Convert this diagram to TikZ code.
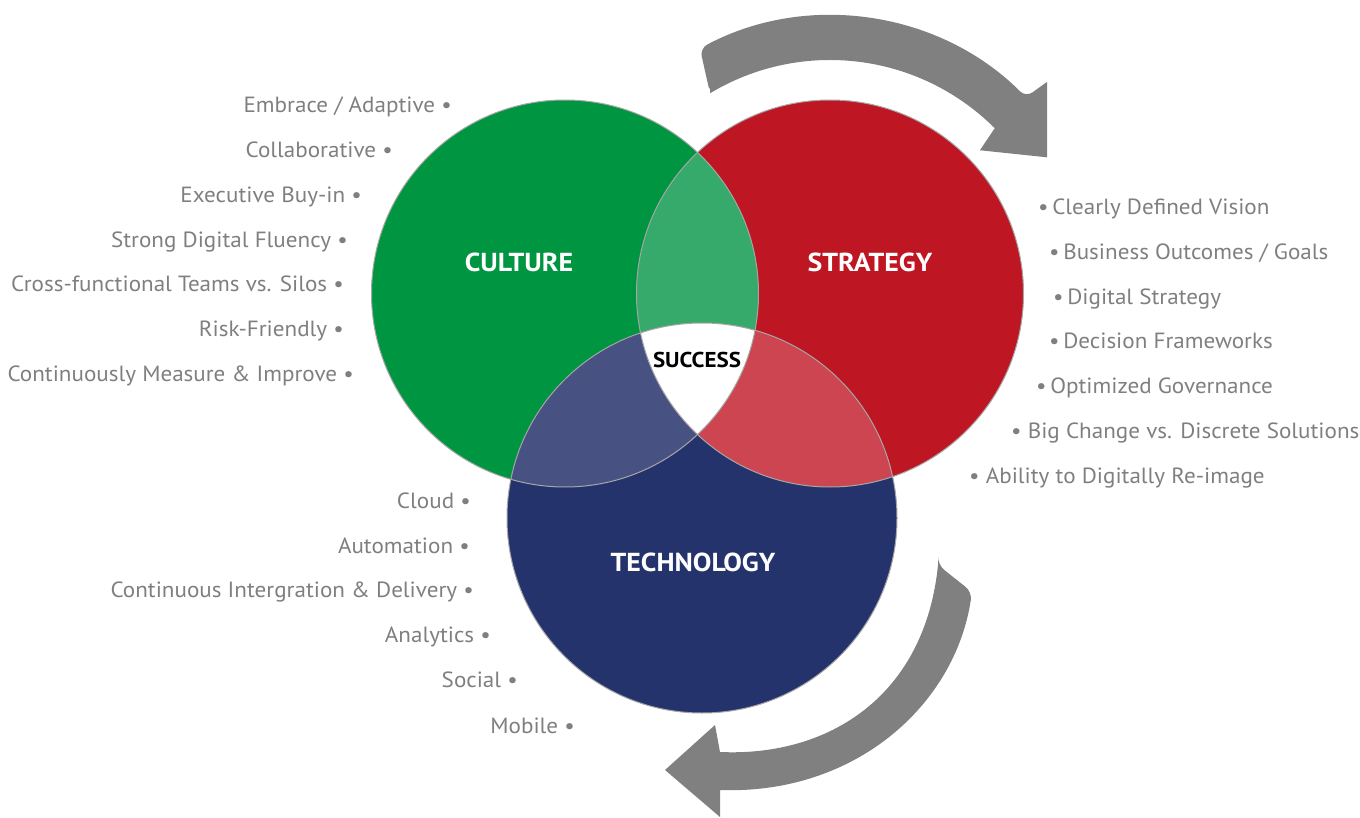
\documentclass[tikz,border=0pt]{standalone}
\usepackage{fontspec}
\setmainfont{PT Sans}
\usetikzlibrary{positioning,calc}

\definecolor{culturegreen}{HTML}{009540}
\definecolor{strategyred}{HTML}{BE1622}
\definecolor{technavy}{HTML}{25336C}
\definecolor{lensgreen}{HTML}{36AA6A}
\definecolor{lensblue}{HTML}{475282}
\definecolor{lensred}{HTML}{CC4550}
\definecolor{edgegray}{HTML}{A6A6A6}
\definecolor{itemgray}{HTML}{7F7F7F}
\definecolor{arrowgray}{HTML}{808080}

\begin{document}
\begin{tikzpicture}[x=1pt, y=1pt,
                item/.style={text=itemgray, font=\fontsize{22}{24}\selectfont\addfontfeature{FakeStretch=1.05}, inner sep=0pt},
                leftitem/.style={item, anchor=base east},
                rightitem/.style={item, anchor=base west},
                title/.style={text=white, font=\fontsize{26}{28}\selectfont\bfseries\addfontfeature{FakeStretch=1.07}},
                ring/.style={circle, draw=edgegray, line width=1, inner sep=0pt}
                ]
                \useasboundingbox (0,0) rectangle (1360,-818);
                % Centres
                \coordinate (cc) at (565,-293.5);
                \coordinate (sc) at (830,-293.5);
                \coordinate (tc) at (702,-518);
                \coordinate (ta) at (830,-293);
                % Circles
                \fill[culturegreen] (cc) circle[radius=193.5];
                \fill[strategyred] (sc) circle[radius=193.5];
                \fill[technavy] (tc) circle[radius=195];
                % Overlaps
                \begin{scope}
                  \clip (cc) circle[radius=193.5];
                  \fill[lensgreen] (sc) circle[radius=193.5];
                  \fill[lensblue] (tc) circle[radius=195];
                \end{scope}
                \begin{scope}
                  \clip (sc) circle[radius=193.5];
                  \fill[lensred] (tc) circle[radius=195];
                  \clip (cc) circle[radius=193.5];
                  \fill[white] (tc) circle[radius=195];
                \end{scope}
                \node[ring, minimum size=387] (culture) at (cc) {};
                \node[ring, minimum size=387] (strategy) at (sc) {};
                \node[ring, minimum size=390] (technology) at (tc) {};
                % Titles
                \node[title] (cultureT) at (519,-262) {CULTURE};
                \node[title] (strategyT) at (870,-262) {STRATEGY};
                \node[title] (technologyT) at (693,-562) {TECHNOLOGY};
                \node[title, text=black, font=\fontsize{21.5}{24}\selectfont\bfseries\addfontfeature{FakeStretch=1.07}] (success) at (697,-360) {SUCCESS};
                % Top arrow
                \fill[arrowgray, rounded corners=8] ($(ta)+(121:233)$) -- ($(ta)+(118:277)$)
                  arc[start angle=118, end angle=45, radius=277] [sharp corners]
                  -- ($(ta)+(44.2:303)$) -- ($(ta)+(32:256)$) -- ($(ta)+(43.6:207)$)
                  -- ($(ta)+(45:233)$) arc[start angle=45, end angle=121, radius=233]
                  [rounded corners=8] -- cycle;
                % Bottom arrow
                \fill[arrowgray, rounded corners=8] (938,-565) -- (972,-592) [sharp corners]
                  .. controls (955,-705) and (855,-795) .. (720,-790)
                  -- (720,-817) -- (665,-770) -- (715,-725) -- (720,-752)
                  .. controls (830,-757) and (925,-695) .. (938,-565) [rounded corners=8] -- cycle;
                % Culture items
                \node[leftitem] (c1) at (452,-112.5) {Embrace / Adaptive •};
                \node[leftitem] (c2) at (393,-157.5) {Collaborative •};
                \node[leftitem] (c3) at (362,-203) {Executive Buy-in •};
                \node[leftitem] (c4) at (348,-247.5) {Strong Digital Fluency •};
                \node[leftitem] (c5) at (344,-292) {Cross-functional Teams vs. Silos •};
                \node[leftitem] (c6) at (344,-336.5) {Risk-Friendly •};
                \node[leftitem] (c7) at (354,-381) {Continuously Measure \& Improve •};
                % Strategy items
                \node[rightitem] (s1) at (1038,-214.5) {•\,Clearly Defined Vision};
                \node[rightitem] (s2) at (1049,-259.5) {•\,Business Outcomes / Goals};
                \node[rightitem] (s3) at (1053,-304.5) {•\,Digital Strategy};
                \node[rightitem] (s4) at (1049,-348.5) {•\,Decision Frameworks};
                \node[rightitem] (s5) at (1036,-393.5) {•\,Optimized Governance};
                \node[rightitem] (s6) at (1011,-438.5) {• Big Change vs. Discrete Solutions};
                \node[rightitem] (s7) at (969,-483.5) {• Ability to Digitally Re-image};
                % Technology items
                \node[leftitem] (t1) at (471,-508.5) {Cloud •};
                \node[leftitem] (t2) at (470,-553.5) {Automation •};
                \node[leftitem] (t3) at (474,-597.5) {Continuous Intergration \& Delivery •};
                \node[leftitem] (t4) at (491,-642.5) {Analytics •};
                \node[leftitem] (t5) at (518,-687.5) {Social •};
                \node[leftitem] (t6) at (575,-733.5) {Mobile •};
              \end{tikzpicture}
\end{document}
